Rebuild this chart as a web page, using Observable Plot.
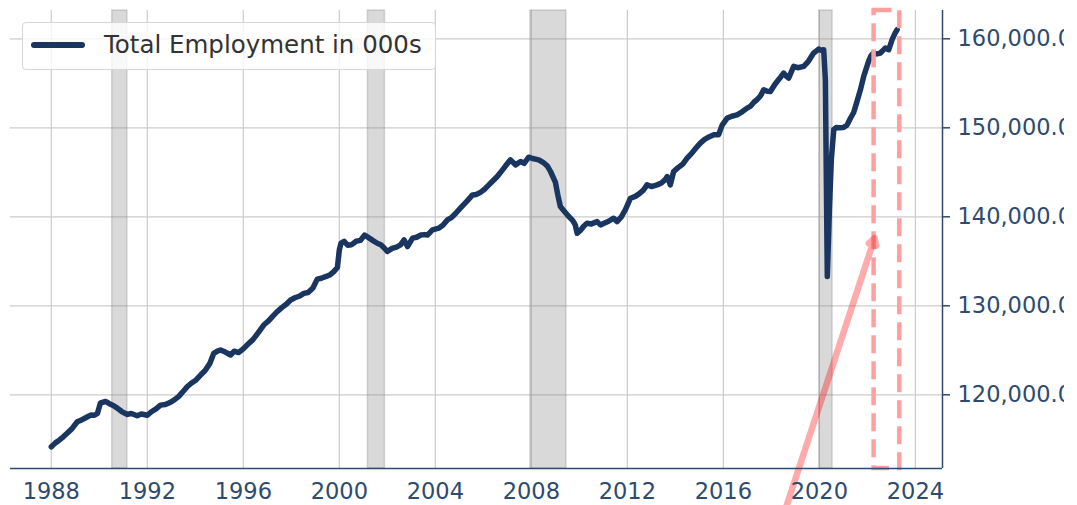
<!DOCTYPE html>
<html>
<head>
<meta charset="utf-8">
<script src="https://cdn.jsdelivr.net/npm/d3@7"></script>
<script src="https://cdn.jsdelivr.net/npm/@observablehq/plot@0.6"></script>
<style>
  body { margin: 0; background: #fff; }
  #wrap { position: relative; width: 1064px; height: 505px; overflow: hidden; background: #fff; }
  #legend { position: absolute; left: 22px; top: 22px; width: 412px; height: 46px;
    border: 1px solid #d6d6d6; border-radius: 4px; background: rgba(255,255,255,0.8);
    font-family: "DejaVu Sans"; }
  #legend .swatch { position: absolute; left: 8px; top: 19px; width: 54px; height: 5.5px; border-radius: 3px; background: #1a3660; }
  #legend .label { position: absolute; left: 81px; top: 10px; font-size: 24.5px; line-height: 1; color: #333; white-space: nowrap; }
</style>
</head>
<body>
<div id="wrap"></div>
<script>
// Series: total employment (thousands)
const years = [
  1988.0, 1988.17, 1988.33, 1988.5, 1988.67, 1988.87, 1989.08, 1989.25, 1989.45, 1989.64, 1989.8, 1989.92,
  1990.05, 1990.26, 1990.42, 1990.58, 1990.75, 1990.92, 1991.05, 1991.17, 1991.33, 1991.58, 1991.75, 1992.0,
  1992.17, 1992.35, 1992.55, 1992.75, 1992.92, 1993.11, 1993.3, 1993.5, 1993.66, 1993.83, 1994.0, 1994.22,
  1994.4, 1994.6, 1994.77, 1994.92, 1995.05, 1995.25, 1995.47, 1995.62, 1995.8, 1996.02, 1996.2, 1996.4,
  1996.6, 1996.85, 1997.05, 1997.25, 1997.41, 1997.6, 1997.8, 1997.97, 1998.15, 1998.35, 1998.52, 1998.7,
  1998.9, 1999.08, 1999.25, 1999.45, 1999.62, 1999.77, 1999.92, 2000.0, 2000.07, 2000.2, 2000.35, 2000.5,
  2000.7, 2000.88, 2001.05, 2001.25, 2001.42, 2001.6, 2001.73, 2001.87, 2002.0, 2002.2, 2002.38, 2002.55,
  2002.7, 2002.84, 2003.05, 2003.22, 2003.4, 2003.55, 2003.67, 2003.88, 2004.15, 2004.33, 2004.5, 2004.67,
  2004.85, 2005.1, 2005.3, 2005.55, 2005.7, 2005.88, 2006.05, 2006.2, 2006.37, 2006.58, 2006.75, 2006.92,
  2007.13, 2007.34, 2007.55, 2007.7, 2007.89, 2008.05, 2008.31, 2008.5, 2008.67, 2008.8, 2009.0, 2009.1,
  2009.21, 2009.38, 2009.56, 2009.72, 2009.83, 2009.91, 2010.05, 2010.2, 2010.32, 2010.5, 2010.74, 2010.88,
  2011.05, 2011.22, 2011.43, 2011.57, 2011.75, 2011.92, 2012.13, 2012.33, 2012.5, 2012.68, 2012.82, 2013.0,
  2013.24, 2013.42, 2013.58, 2013.66, 2013.79, 2013.93, 2014.1, 2014.3, 2014.49, 2014.67, 2014.85, 2015.04,
  2015.22, 2015.42, 2015.6, 2015.8, 2015.95, 2016.16, 2016.35, 2016.57, 2016.78, 2016.99, 2017.12, 2017.28,
  2017.4, 2017.55, 2017.68, 2017.83, 2017.96, 2018.15, 2018.33, 2018.51, 2018.62, 2018.72, 2018.93, 2019.1,
  2019.35, 2019.55, 2019.76, 2019.97, 2020.08, 2020.18, 2020.25, 2020.33, 2020.42, 2020.5, 2020.6, 2020.7,
  2020.83, 2021.0, 2021.15, 2021.3, 2021.43, 2021.55, 2021.71, 2021.85, 2022.05, 2022.15, 2022.26, 2022.4,
  2022.54, 2022.65, 2022.75, 2022.89, 2023.03, 2023.15, 2023.24
];
const employment = [
  114160, 114600, 114900, 115280, 115700, 116220, 116970, 117150, 117450, 117720, 117700, 117900,
  119100, 119250, 119000, 118800, 118500, 118150, 117950, 117800, 117900, 117650, 117850, 117700,
  118100, 118400, 118840, 118900, 119100, 119400, 119800, 120400, 120900, 121300, 121600, 122220,
  122700, 123500, 124660, 124900, 125030, 124800, 124470, 124900, 124750, 125220, 125700, 126200,
  126900, 127840, 128300, 128900, 129340, 129800, 130200, 130650, 130900, 131100, 131400, 131500,
  132000, 133000, 133100, 133300, 133500, 133840, 134300, 136280, 137050, 137250, 136800, 136850,
  137250, 137350, 137950, 137600, 137300, 137000, 136850, 136500, 136100, 136450, 136600, 136850,
  137400, 136650, 137600, 137700, 137950, 138000, 137950, 138530, 138720, 139100, 139650, 139900,
  140400, 141150, 141700, 142460, 142500, 142750, 143100, 143500, 143960, 144520, 145100, 145700,
  146400, 145840, 146210, 146000, 146700, 146550, 146400, 146100, 145700, 145090, 143900, 142500,
  141150, 140600, 140030, 139600, 139100, 138150, 138500, 139000, 139280, 139200, 139460, 139090,
  139300, 139500, 139840, 139460, 140000, 140800, 142090, 142300, 142600, 143030, 143590, 143400,
  143590, 143800, 144200, 144520, 143590, 145090, 145500, 145900, 146590, 147100, 147700, 148280,
  148700, 149000, 149210, 149210, 150300, 151090, 151300, 151460, 151800, 152210, 152400, 152900,
  153150, 153600, 154270, 154100, 154080, 154900, 155500, 156150, 155800, 155590, 156900, 156750,
  156900, 157500, 158400, 158850, 158700, 158770, 155400, 133300, 141000, 146500, 149800, 150030,
  150000, 150030, 150300, 151100, 151720, 152800, 154270, 155800, 157460, 158100, 158400, 158300,
  158400, 158700, 158960, 158770, 159900, 160600, 161030
];

// Recession shading (start / end, decimal years)
const recessionStart = [1990.54, 2001.19, 2007.96, 2020.0];
const recessionEnd   = [1991.17, 2001.9, 2009.46, 2020.55];

// Highlight box and arrow
const highlightStart = [2022.28];
const highlightEnd   = [2023.35];
const arrowFrom = [2018.3, 104800];
const arrowTo   = [2022.3, 137600];

// Axes
const xTicks = [1988, 1992, 1996, 2000, 2004, 2008, 2012, 2016, 2020, 2024];
const yTicks = [120000, 130000, 140000, 150000, 160000];
const xDomain = [1986.3, 2025.13];
const yDomain = [111720, 163180];

const lineColor = "#1a3660";
const axisColor = "#2e4a6e";

const series = years.map((y, i) => ({year: y, value: employment[i]}));
const recessions = recessionStart.map((s, i) => ({start: s, end: recessionEnd[i]}));
const highlight = highlightStart.map((s, i) => ({start: s, end: highlightEnd[i]}));
const arrows = [{x1: arrowFrom[0], y1: arrowFrom[1], x2: arrowTo[0], y2: arrowTo[1]}];

const chart = Plot.plot({
  width: 1064,
  height: 505,
  marginLeft: 10,
  marginRight: 122,
  marginTop: 10,
  marginBottom: 37,
  style: {fontFamily: "DejaVu Sans", fontSize: "22.5px", background: "white", overflow: "hidden"},
  x: {type: "linear", domain: xDomain},
  y: {type: "linear", domain: yDomain},
  marks: [
    Plot.gridX(xTicks, {stroke: "#cccccc", strokeOpacity: 1, strokeWidth: 1.2}),
    Plot.gridY(yTicks, {stroke: "#cccccc", strokeOpacity: 1, strokeWidth: 1.2}),
    Plot.rect(recessions, {x1: "start", x2: "end", fill: "gray", fillOpacity: 0.3, stroke: "gray", strokeOpacity: 0.3, strokeWidth: 1.5}),
    Plot.line(series, {x: "year", y: "value", stroke: lineColor, strokeWidth: 5.5, strokeLinejoin: "round", strokeLinecap: "round"}),
    Plot.rect(highlight, {x1: "start", x2: "end", fill: "none", stroke: "#ffa0a0", strokeWidth: 4.5, strokeDasharray: "18,8"}),
    Plot.arrow(arrows, {x1: "x1", y1: "y1", x2: "x2", y2: "y2", stroke: "red", strokeOpacity: 0.33, strokeWidth: 6.5, headLength: 1.8}),
    Plot.ruleY([yDomain[0]], {stroke: axisColor, strokeWidth: 1.5}),
    Plot.ruleX([xDomain[1]], {stroke: axisColor, strokeWidth: 1.5}),
    Plot.axisX(xTicks, {anchor: "bottom", tickSize: 0, tickPadding: 15, tickFormat: d => String(d), color: axisColor, fontSize: 22.5}),
    Plot.axisY(yTicks, {anchor: "right", tickSize: 7, tickPadding: 8, tickFormat: d3.format(",.1f"), color: axisColor, strokeWidth: 1.5, fontSize: 22.5})
  ]
});

const wrap = document.getElementById("wrap");
wrap.appendChild(chart);
const legend = document.createElement("div");
legend.id = "legend";
legend.innerHTML = '<div class="swatch"></div><div class="label">Total Employment in 000s</div>';
wrap.appendChild(legend);
</script>
</body>
</html>
